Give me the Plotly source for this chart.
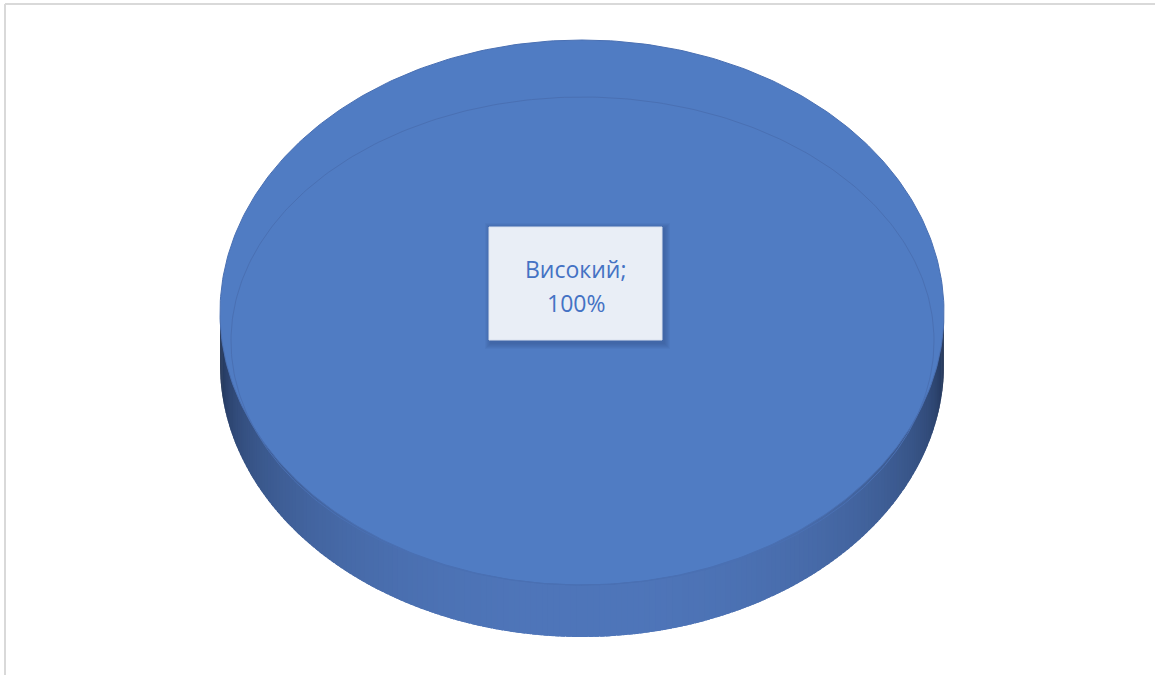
import numpy as np
import plotly.graph_objects as go

# ---- data ----
categories = ["Високий"]
values = [100]
label_sep = ";"

# ---- geometry / style (pixel-like coordinates) ----
W, H = 1155, 675
CX, CY = 582.0, 312.5      # top face centre
RX, RY = 362.0, 272.5      # top face radii
DEPTH = 52.0               # thickness of the pie
TOP_COLOR = "#507CC3"
SIDE_LIGHT = np.array([0x4F, 0x76, 0xBA])
SIDE_DARK = np.array([0x14, 0x20, 0x38])

fig = go.Figure()

total = float(sum(values))
start = -np.pi / 2

def rgb(c):
    c = np.clip(c, 0, 255).astype(int)
    return f"rgb({c[0]},{c[1]},{c[2]})"

slices = []
for cat, v in zip(categories, values):
    span = 2 * np.pi * v / total
    slices.append((cat, v, start, start + span))
    start += span

# side wall (front half only), drawn as shaded overlapping strips
N = 200
for cat, v, a0, a1 in slices:
    lo, hi = 0.0, np.pi
    edges = np.linspace(lo, hi, N + 1)
    for i in range(N):
        t0, t1 = edges[i], min(edges[i + 1] + (hi - lo) / N * 0.8, hi)
        tm = 0.5 * (edges[i] + edges[i + 1])
        s = max(np.sin(tm), 0.0) ** 0.55
        col = SIDE_DARK + (SIDE_LIGHT - SIDE_DARK) * s
        xs = [CX + RX*np.cos(t0), CX + RX*np.cos(t1), CX + RX*np.cos(t1), CX + RX*np.cos(t0)]
        ys = [CY + RY*np.sin(t0) - 2, CY + RY*np.sin(t1) - 2, CY + RY*np.sin(t1) + DEPTH, CY + RY*np.sin(t0) + DEPTH]
        fig.add_trace(go.Scatter(x=xs, y=ys, mode="lines", fill="toself",
                                 fillcolor=rgb(col), line=dict(width=0),
                                 hoverinfo="skip", showlegend=False))

# top faces
for cat, v, a0, a1 in slices:
    th = np.linspace(a0, a1, 400)
    xs = CX + RX*np.cos(th)
    ys = CY + RY*np.sin(th)
    if v != total:
        xs = np.concatenate([[CX], xs, [CX]])
        ys = np.concatenate([[CY], ys, [CY]])
    fig.add_trace(go.Scatter(x=xs, y=ys, mode="lines", fill="toself",
                             fillcolor=TOP_COLOR, line=dict(width=1, color="#4A70B3"),
                             name=cat, hoverinfo="name", showlegend=False))

# subtle inner bevel line
th = np.linspace(0, 2*np.pi, 400)
fig.add_trace(go.Scatter(x=582.5 + 351.5*np.cos(th), y=341 + 244*np.sin(th), mode="lines",
                         line=dict(width=1, color="#4A70B3"), hoverinfo="skip", showlegend=False))

# data label with soft shadow
LX, LY = 575.5, 283.5
BW, BH = 173, 113
for k in range(6, 0, -1):
    fig.add_shape(type="rect", x0=LX-BW/2-k+2, x1=LX+BW/2+k+2, y0=LY-BH/2-k+2, y1=LY+BH/2+k+3,
                  line=dict(width=0), fillcolor="rgba(40,70,130,0.07)", layer="above")
fig.add_shape(type="rect", x0=LX-BW/2, x1=LX+BW/2, y0=LY-BH/2, y1=LY+BH/2,
              line=dict(width=1, color="#D9E1EF"), fillcolor="#E9EEF6", layer="above")
for cat, v, a0, a1 in slices:
    pct = round(100 * v / total)
    fig.add_annotation(x=LX, y=LY-15, text=f"{cat}{label_sep}", showarrow=False,
                       font=dict(family="Open Sans", size=23, color="#4472C4"))
    fig.add_annotation(x=LX, y=LY+19, text=f"{pct}%", showarrow=False,
                       font=dict(family="Open Sans", size=23, color="#4472C4"))

# outer chart border (partially visible)
fig.add_shape(type="line", x0=5, x1=W+20, y0=4, y1=4, line=dict(color="#D9D9D9", width=2))
fig.add_shape(type="line", x0=5, x1=5, y0=4, y1=H+20, line=dict(color="#D9D9D9", width=2))

fig.update_layout(width=W, height=H, margin=dict(l=0, r=0, t=0, b=0),
                  paper_bgcolor="white", plot_bgcolor="white",
                  xaxis=dict(range=[0, W], visible=False, fixedrange=True),
                  yaxis=dict(range=[H, 0], visible=False, fixedrange=True),
                  showlegend=False)

fig.write_html("out.html", config={"displayModeBar": False},
               post_script="document.body.style.margin='0';document.body.style.overflow='hidden';")
